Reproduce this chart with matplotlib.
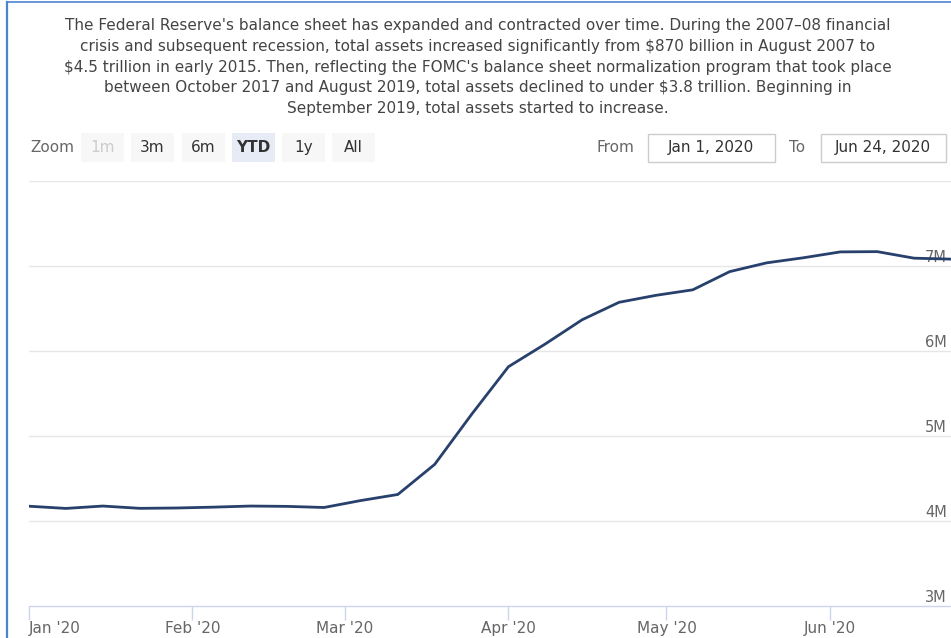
import numpy as np
import matplotlib.pyplot as plt
import matplotlib.dates as mdates
from matplotlib.patches import Rectangle
from matplotlib.ticker import FixedLocator, FuncFormatter

# weekly total assets, trillions of dollars (shown as "M" on the axis, values in millions of millions)
dates = np.array(["2020-01-01", "2020-01-08", "2020-01-15", "2020-01-22", "2020-01-29",
                  "2020-02-05", "2020-02-12", "2020-02-19", "2020-02-26",
                  "2020-03-04", "2020-03-11", "2020-03-18", "2020-03-25",
                  "2020-04-01", "2020-04-08", "2020-04-15", "2020-04-22", "2020-04-29",
                  "2020-05-06", "2020-05-13", "2020-05-20", "2020-05-27",
                  "2020-06-03", "2020-06-10", "2020-06-17", "2020-06-24"], dtype="datetime64[D]")
assets = [4.174, 4.148, 4.176, 4.149, 4.153,
          4.163, 4.176, 4.172, 4.159,
          4.241, 4.312, 4.666, 5.254,
          5.815, 6.083, 6.368, 6.573, 6.655,
          6.720, 6.934, 7.037, 7.097,
          7.166, 7.169, 7.092, 7.081]

month_ticks = np.array(["2020-01-01", "2020-02-01", "2020-03-01", "2020-04-01",
                        "2020-05-01", "2020-06-01"], dtype="datetime64[D]")
month_labels = ["Jan '20", "Feb '20", "Mar '20", "Apr '20", "May '20", "Jun '20"]
y_ticks = [3, 4, 5, 6, 7, 8]

intro = ["The Federal Reserve's balance sheet has expanded and contracted over time. During the 2007\u201308 financial",
         "crisis and subsequent recession, total assets increased significantly from $870 billion in August 2007 to",
         "$4.5 trillion in early 2015. Then, reflecting the FOMC's balance sheet normalization program that took place",
         "between October 2017 and August 2019, total assets declined to under $3.8 trillion. Beginning in",
         "September 2019, total assets started to increase."]

buttons = ["1m", "3m", "6m", "YTD", "1y", "All"]
button_x = [81, 131, 182, 232, 282, 332]

plt.rcParams["font.family"] = ["DejaVu Sans"]
W, H = 951, 638
fig = plt.figure(figsize=(W / 100, H / 100), dpi=100)

def px(x, y):
    return x / W, 1 - y / H

# frame edges
fig.add_artist(plt.Line2D([7 / W, 7 / W], [0, 1 - 2 / H], color="#4a84cf", lw=1.6))
fig.add_artist(plt.Line2D([7 / W, 1], [1 - 2 / H, 1 - 2 / H], color="#4a84cf", lw=1.2))

# intro paragraph
for i, line in enumerate(intro):
    fig.text(*px(478, 25.5 + i * 20.8), line, ha="center", va="center", fontsize=10.95, color="#444444")

# range selector
fig.text(*px(30, 148), "Zoom", ha="left", va="center", fontsize=11, color="#666666")
for lab, bx in zip(buttons, button_x):
    face = "#e6ebf5" if lab == "YTD" else "#f7f7f7"
    fig.add_artist(Rectangle(px(bx, 162), 43 / W, 29 / H, facecolor=face, edgecolor="none"))
    col = "#cccccc" if lab == "1m" else "#333333"
    fig.text(*px(bx + 21.5, 147.5), lab, ha="center", va="center", fontsize=11, color=col,
             fontweight="bold" if lab == "YTD" else "normal")

fig.text(*px(597, 147), "From", ha="left", va="center", fontsize=11, color="#666666")
fig.add_artist(Rectangle(px(648, 162), 127 / W, 28 / H, facecolor="white", edgecolor="#cccccc", lw=1))
fig.text(*px(711, 147.5), "Jan 1, 2020", ha="center", va="center", fontsize=11, color="#333333")
fig.text(*px(789, 147), "To", ha="left", va="center", fontsize=11, color="#666666")
fig.add_artist(Rectangle(px(821, 162), 125 / W, 28 / H, facecolor="white", edgecolor="#cccccc", lw=1))
fig.text(*px(883, 147.5), "Jun 24, 2020", ha="center", va="center", fontsize=11, color="#333333")

# chart area
ax = fig.add_axes([29 / W, 32 / H, 922 / W, 425 / H])
ax.set_xlim(np.datetime64("2020-01-01"), np.datetime64("2020-06-24"))
ax.set_ylim(3, 8)

ax.plot(dates, assets, color="#27406c", lw=2, zorder=4, solid_joinstyle="round")

for v in y_ticks[1:]:
    ax.axhline(v, color="#e6e6e6", lw=1, zorder=1)
    if v < 8:
        ax.annotate(f"{v}M", xy=(1, v), xycoords=("axes fraction", "data"), xytext=(-3, 1),
                    textcoords="offset points", ha="right", va="bottom", fontsize=10.5,
                    color="#666666", zorder=2)
ax.annotate("3M", xy=(1, 3), xycoords=("axes fraction", "data"), xytext=(-3, 1),
            textcoords="offset points", ha="right", va="bottom", fontsize=10.5, color="#666666")

for s in ["top", "right", "left"]:
    ax.spines[s].set_visible(False)
ax.spines["bottom"].set_color("#ccd6eb")
ax.spines["bottom"].set_linewidth(1)
ax.set_yticks([])
ax.xaxis.set_major_locator(FixedLocator(mdates.date2num(month_ticks)))
ax.xaxis.set_major_formatter(FuncFormatter(lambda x, p: ""))
ax.tick_params(axis="x", direction="out", length=10, width=1, color="#ccd6eb")

for d, lab in zip(month_ticks, month_labels):
    ha = "left" if lab == "Jan '20" else "center"
    ax.annotate(lab, xy=(d, 3), xycoords=("data", "data"), xytext=(0, -16), textcoords="offset points",
                ha=ha, va="center", fontsize=11, color="#666666", annotation_clip=False)

fig.savefig("out.png", dpi=100)
